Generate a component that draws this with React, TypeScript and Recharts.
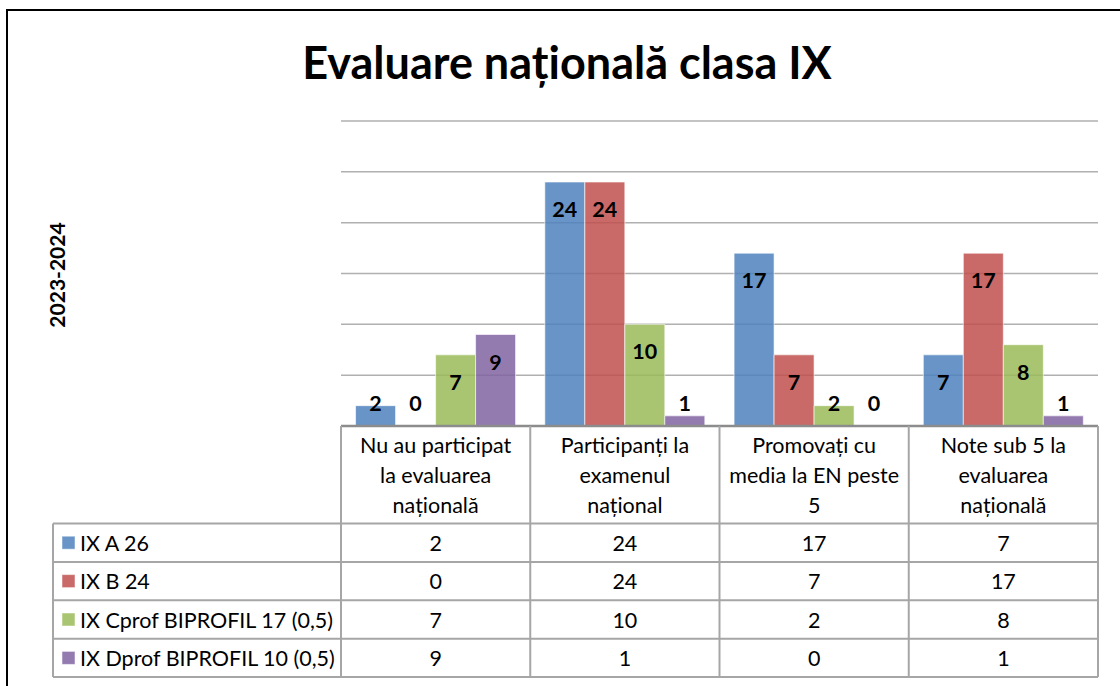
import React from "react";
import { BarChart, Bar, XAxis, YAxis, CartesianGrid, LabelList } from "recharts";

const categories = [
  "Nu au participat\nla evaluarea\nnațională",
  "Participanți la\nexamenul\nnațional",
  "Promovați cu\nmedia la EN peste\n5",
  "Note sub 5 la\nevaluarea\nnațională",
];
const seriesNames = [
  "IX A 26",
  "IX B 24",
  "IX Cprof BIPROFIL 17 (0,5)",
  "IX Dprof BIPROFIL 10 (0,5)",
];
const ixA = [2, 24, 17, 7];
const ixB = [0, 24, 7, 17];
const ixC = [7, 10, 2, 8];
const ixD = [9, 1, 0, 1];
const yTicks = [0, 5, 10, 15, 20, 25, 30];
const colors = ["#4F81BD", "#C0504D", "#9BBB59", "#8064A2"];

const keys = ["a", "b", "c", "d"];
const seriesValues = [ixA, ixB, ixC, ixD];
const data = categories.map((name, i) => ({
  name,
  a: ixA[i],
  b: ixB[i],
  c: ixC[i],
  d: ixD[i],
}));

const FONT = "Lato, 'Open Sans', sans-serif";
const W = 1120;
const H = 686;
const plotLeft = 341;
const plotRight = 1098;
const plotTop = 121;
const baseY = 426;
const headerH = 98;
const colW = (plotRight - plotLeft) / categories.length;
const rowTop = baseY + headerH - 0.5;
const rowH = 38.4;
const tableLeft = 53;
const lineColor = "#a6a6a6";
const textSize = 21.5;

// category names drawn as the axis ticks, one line per row of the header
const HeaderTick = (props: any) => {
  const { x, y, payload } = props;
  const lines = String(payload.value).split("\n");
  return (
    <g>
      {lines.map((l, i) => (
        <text
          key={i}
          x={x}
          y={y + 11 + i * 30}
          textAnchor="middle"
          dominantBaseline="central"
          fontFamily={FONT}
          fontSize={textSize}
          fill="#000"
        >
          {l}
        </text>
      ))}
    </g>
  );
};

// inside the top of the bar, pushed above it when the bar is short
const ValueLabel = (props: any) => {
  const { x, y, width, height, value } = props;
  const ly = Math.min(y + 27, y + height - 23);
  return (
    <text
      x={x + width / 2}
      y={ly}
      textAnchor="middle"
      dominantBaseline="central"
      fontFamily={FONT}
      fontWeight="bold"
      fontSize={21.5}
      fill="#000"
    >
      {value}
    </text>
  );
};

export default function App() {
  const rowLines = [0, 1, 2, 3, 4].map((i) => rowTop + i * rowH);
  return (
    <div
      style={{
        position: "absolute",
        left: 0,
        top: 0,
        width: W,
        height: H,
        overflow: "hidden",
        background: "#fff",
      }}
    >
      <div
        style={{
          position: "absolute",
          left: 6,
          top: 9,
          width: 1300,
          height: 900,
          borderLeft: "2px solid #000",
          borderTop: "2px solid #000",
        }}
      />
      <BarChart
        width={W}
        height={H}
        data={data}
        margin={{ top: plotTop, right: W - plotRight, bottom: H - baseY - headerH, left: plotLeft }}
        barCategoryGap="7.7%"
        barGap={0}
        style={{ position: "absolute", left: 0, top: 0 }}
      >
        <CartesianGrid vertical={false} stroke="#b0b0b0" strokeWidth={1.5} />
        <YAxis
          domain={[0, 30]}
          ticks={yTicks}
          width={0}
          tick={{ fill: "transparent", fontSize: 1 }}
          axisLine={false}
          tickLine={false}
        />
        <XAxis
          dataKey="name"
          height={headerH}
          axisLine={{ stroke: "#8c8c8c", strokeWidth: 2.5 }}
          tickLine={false}
          tick={<HeaderTick />}
          interval={0}
        />
        {keys.map((k, i) => (
          <Bar
            key={k}
            dataKey={k}
            name={seriesNames[i]}
            fill={colors[i]}
            fillOpacity={0.85}
            stroke="#ffffff"
            strokeOpacity={0.6}
            strokeWidth={1}
            minPointSize={(v: number) => (v === 0 ? 0.01 : 0)}
            isAnimationActive={false}
          >
            <LabelList dataKey={k} content={<ValueLabel />} />
          </Bar>
        ))}
      </BarChart>
      <svg
        width={W}
        height={H}
        style={{ position: "absolute", left: 0, top: 0, pointerEvents: "none" }}
      >
        <text
          x={567}
          y={62}
          textAnchor="middle"
          dominantBaseline="central"
          fontFamily={FONT}
          fontWeight="bold"
          fontSize={45}
          fill="#000"
        >
          Evaluare națională clasa IX
        </text>
        <text
          transform="translate(56,275) rotate(-90)"
          textAnchor="middle"
          dominantBaseline="central"
          fontFamily={FONT}
          fontWeight="bold"
          fontSize={21}
          fill="#000"
        >
          2023-2024
        </text>
        {categories.map((_, i) => (
          <line
            key={"v" + i}
            x1={plotLeft + i * colW}
            x2={plotLeft + i * colW}
            y1={baseY}
            y2={rowLines[4]}
            stroke={lineColor}
            strokeWidth={2}
          />
        ))}
        <line x1={plotRight} x2={plotRight} y1={baseY} y2={rowLines[4]} stroke={lineColor} strokeWidth={2} />
        <line x1={tableLeft} x2={tableLeft} y1={rowLines[0]} y2={rowLines[4]} stroke={lineColor} strokeWidth={2} />
        {rowLines.map((y, i) => (
          <line key={"h" + i} x1={tableLeft} x2={plotRight} y1={y} y2={y} stroke={lineColor} strokeWidth={2} />
        ))}
        {seriesNames.map((s, r) => {
          const cy = rowLines[r] + rowH / 2;
          return (
            <g key={s}>
              <rect x={62} y={cy - 6.5} width={13} height={13} fill={colors[r]} fillOpacity={0.85} stroke="#fff" strokeOpacity={0.5} />
              <text x={80} y={cy} dominantBaseline="central" fontFamily={FONT} fontSize={textSize} fill="#000">
                {s}
              </text>
              {seriesValues[r].map((v, c) => (
                <text
                  key={c}
                  x={plotLeft + (c + 0.5) * colW}
                  y={cy}
                  textAnchor="middle"
                  dominantBaseline="central"
                  fontFamily={FONT}
                  fontSize={textSize}
                  fill="#000"
                >
                  {v}
                </text>
              ))}
            </g>
          );
        })}
      </svg>
    </div>
  );
}
